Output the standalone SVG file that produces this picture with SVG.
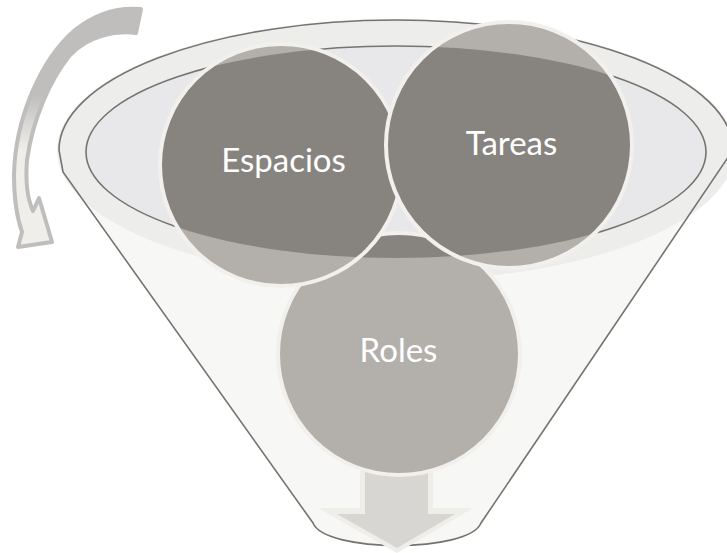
<svg xmlns="http://www.w3.org/2000/svg" width="727" height="553" viewBox="0 0 727 553">
<defs>
<style>
.lbl{font-family:Lato,"Open Sans","Liberation Sans",sans-serif;font-size:33px;fill:#ffffff;text-anchor:middle}
.light{fill:#b3b0ab}
.dark{fill:#87847f}
.rim{fill:none;stroke:#f1f0ec;stroke-width:4}
.edge{fill:none;stroke:#77746f;stroke-width:1.6}
</style>
<clipPath id="opening"><ellipse cx="396" cy="152" rx="310" ry="106"/></clipPath>
<linearGradient id="arrowFill" gradientUnits="userSpaceOnUse" x1="0" y1="95" x2="0" y2="150">
<stop offset="0" stop-color="#bfbebc"/>
<stop offset="1" stop-color="#efeeea"/>
</linearGradient>
</defs>
<rect width="727" height="553" fill="#ffffff"/>
<g id="cycle-arrow">
<path d="M141,9 L136,33 C115,30 88,36 70,55 C50,80 33,118 27,160 C25,185 28,200 33,211 L39,198 L52,242 L18,247 L22,232 C16,215 14,195 14,175 C15,120 40,60 75,30 C95,14 118,7 141,9 Z" fill="url(#arrowFill)" stroke="#bfbebc" stroke-width="4" stroke-linejoin="round"/>
</g>
<g id="funnel">
<path d="M59,150 A337,130 0 0 1 733,150 L481,523 C469,553 325,553 313,523 L63,172 Z" fill="#f7f7f5"/>
<ellipse cx="396" cy="150" rx="339" ry="131" fill="#ededec"/>
<path class="edge" d="M59,150 A337,130 0 0 1 733,150 L481,523 C469,553 325,553 313,523 L63,172 Z"/>
<ellipse cx="396" cy="152" rx="310" ry="106" fill="#e8e8ea" stroke="#77746f" stroke-width="1.6"/>
</g>
<g id="out-arrow">
<polygon points="360,440 433,440 433,508 473,508 397,553 318,508 360,508" fill="#efeee9"/>
<polygon points="365,440 428,440 428,514 455,514 397,548 337,514 365,514" fill="#d7d6d2"/>
</g>
<g id="node-roles">
<circle class="light" cx="399" cy="354" r="121"/>
<circle class="dark" cx="399" cy="354" r="121" clip-path="url(#opening)"/>
<circle class="rim" cx="399" cy="354" r="121"/>
<text class="lbl" x="398.5" y="362">Roles</text>
</g>
<g id="node-espacios">
<circle class="light" cx="281" cy="165" r="121"/>
<circle class="dark" cx="281" cy="165" r="121" clip-path="url(#opening)"/>
<circle class="rim" cx="281" cy="165" r="121"/>
<text class="lbl" x="283.5" y="172">Espacios</text>
</g>
<g id="node-tareas">
<circle class="light" cx="509" cy="145" r="123"/>
<circle class="dark" cx="509" cy="145" r="123" clip-path="url(#opening)"/>
<circle class="rim" cx="509" cy="145" r="123"/>
<text class="lbl" x="511.5" y="155">Tareas</text>
</g>
</svg>
